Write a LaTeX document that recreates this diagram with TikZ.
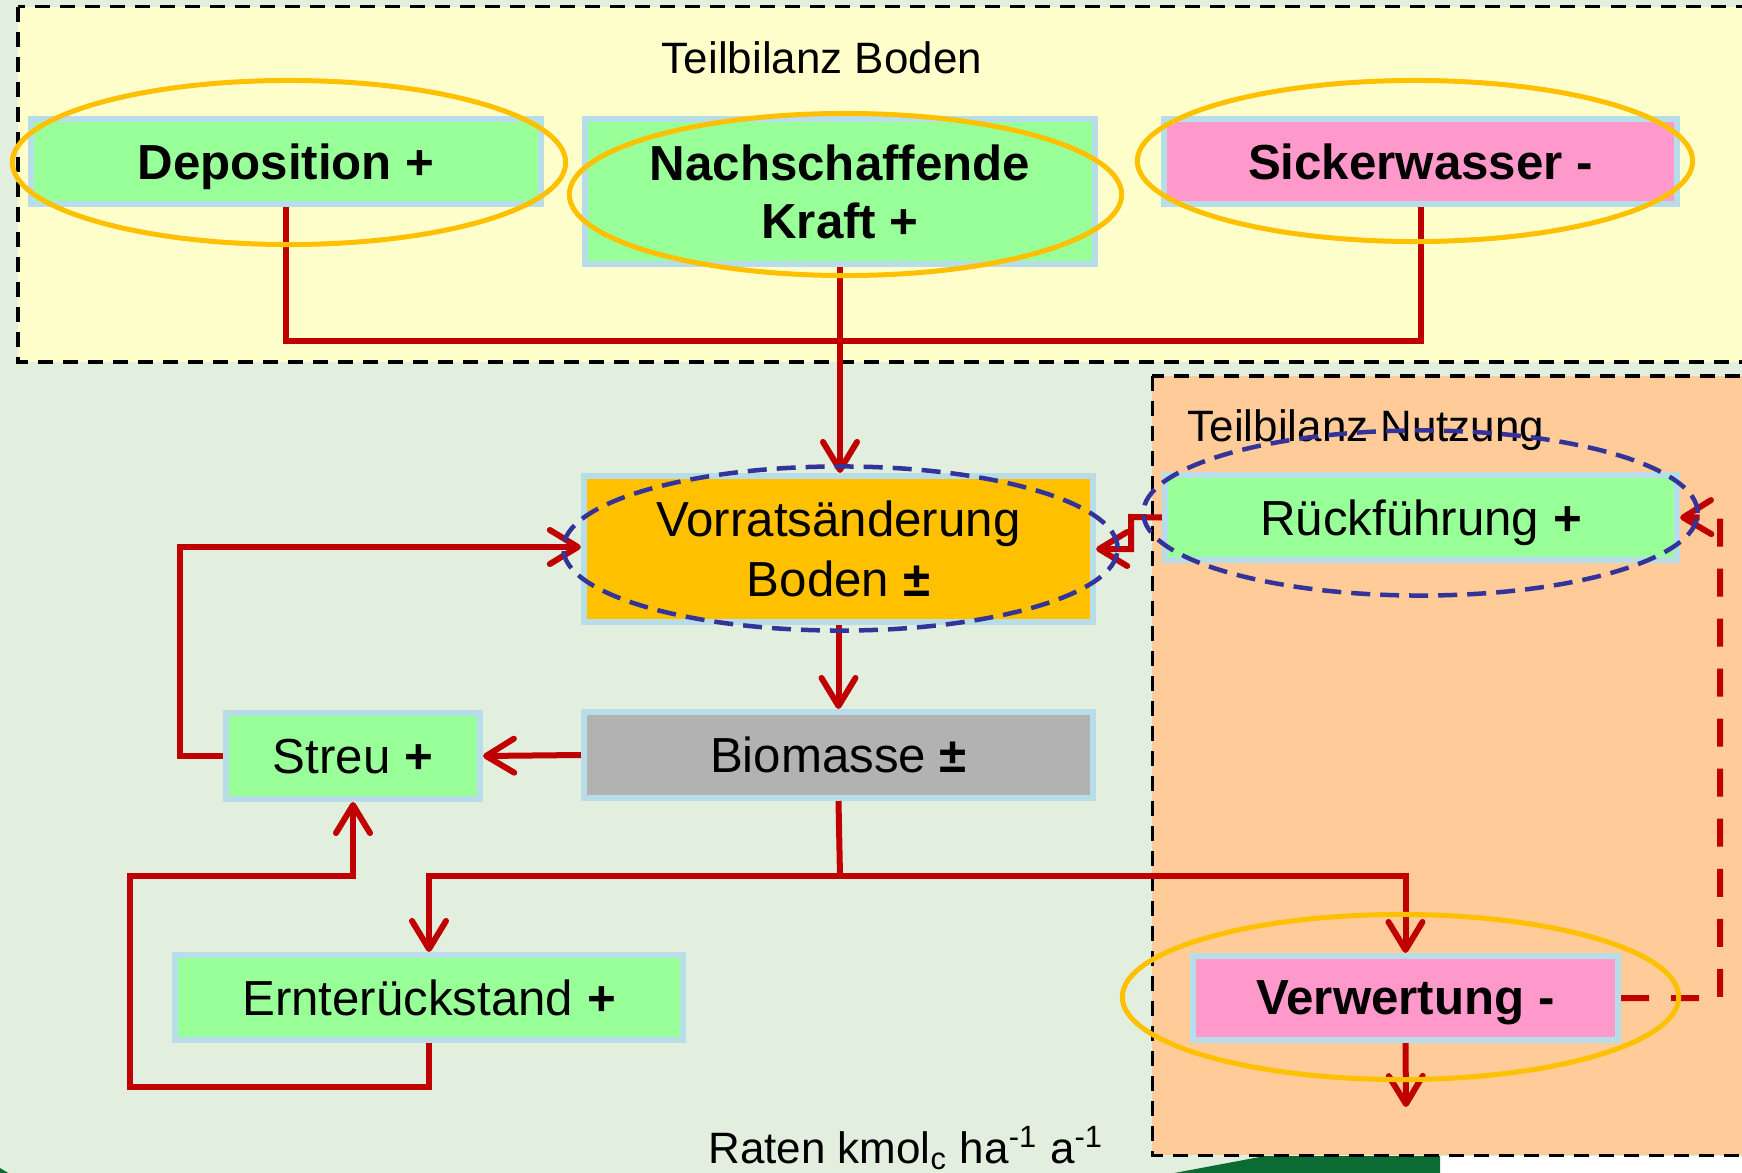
\documentclass[tikz,border=0pt]{standalone}
\usepackage{fontspec}
\setmainfont{Liberation Sans}
\usetikzlibrary{arrows.meta,shapes.geometric}
\definecolor{bgc}{HTML}{E2EFDE}
\definecolor{ylw}{HTML}{FFFFCC}
\definecolor{org}{HTML}{FFCC99}
\definecolor{grn}{HTML}{99FF99}
\definecolor{pnk}{HTML}{FF99CC}
\definecolor{gld}{HTML}{FFC000}
\definecolor{gry}{HTML}{B2B2B2}
\definecolor{bbd}{HTML}{B7DEE8}
\definecolor{rd}{HTML}{C00000}
\definecolor{blu}{HTML}{333399}
\definecolor{dgr}{HTML}{0B6B33}
\newcommand\bxf{\fontsize{14}{16.5}\selectfont}
\newcommand\lbf{\fontsize{12.5}{15}\selectfont}
\begin{document}
\begin{tikzpicture}[x=0.01cm,y=-0.01cm,
  bx/.style={draw=bbd, line width=0.06cm, inner sep=0pt, align=center, font=\bxf, text depth=0pt},
  bxb/.style={bx, font=\bxf\bfseries},
  zone/.style={draw=black, line width=0.03cm, dash pattern=on 0.15cm off 0.1cm},
  rl/.style={draw=rd, line width=0.06cm, line join=miter},
  rar/.style={rl, -{Straight Barb[length=0.28cm,width=0.34cm,round]}},
  rdash/.style={rar, dash pattern=on 0.28cm off 0.22cm},
  oell/.style={ellipse, draw=gld, line width=0.05cm, inner sep=0pt},
  bell/.style={ellipse, draw=blu, line width=0.045cm, inner sep=0pt, dash pattern=on 0.19cm off 0.1cm},
  lbl/.style={font=\lbf, inner sep=0pt}
]
% background and frame
\fill[bgc] (0,0) rectangle (1742,1173);
\useasboundingbox (0,0) rectangle (1742,1173);
\fill[white] (1440,1156) rectangle (1760,1180);
\fill[dgr] (1137,1180) -- (1265,1156) -- (1440,1156) -- (1440,1180) -- cycle;
\fill[dgr] (0,1168) -- (20,1180) -- (0,1180) -- cycle;

% zones
\filldraw[fill=ylw, zone] (18,7) rectangle (1780,362);
\filldraw[fill=org, zone] (1152,376) rectangle (1780,1155);
\node[lbl, anchor=base] (tb) at (822,74) {Teilbilanz Boden};
\node[lbl, anchor=base] (tn) at (1366,441) {Teilbilanz Nutzung};
\node[lbl, anchor=base] (rt) at (906,1163) {Raten kmol\textsubscript{c} ha\textsuperscript{-1} a\textsuperscript{-1}};

% boxes
\node[bxb, fill=grn, minimum width=5.10cm, minimum height=0.85cm] (dep) at (286,161.5) {Deposition +};
\node[bxb, fill=grn, minimum width=5.10cm, minimum height=1.45cm] (nach) at (840,191.5) {Nachschaffende\\Kraft +};
\node[bxb, fill=pnk, minimum width=5.12cm, minimum height=0.85cm] (sick) at (1420.5,161.5) {Sickerwasser -};
\node[bx, fill=gld, minimum width=5.09cm, minimum height=1.46cm, font=\fontsize{14}{17}\selectfont] (vorr) at (838.5,549) {Vorratsänderung\\Boden \textbf{±}};
\node[bx, fill=gry, minimum width=5.09cm, minimum height=0.86cm] (bio) at (838.5,755) {Biomasse \textbf{±}};
\node[bx, fill=grn, minimum width=2.54cm, minimum height=0.86cm] (streu) at (353,756) {Streu \textbf{+}};
\node[bx, fill=grn, minimum width=5.08cm, minimum height=0.85cm] (ernte) at (429,997.5) {Ernterückstand \textbf{+}};
\node[bx, fill=grn, minimum width=5.12cm, minimum height=0.85cm] (rueck) at (1421,517.5) {Rückführung \textbf{+}};
\node[bxb, fill=pnk, minimum width=4.25cm, minimum height=0.84cm] (verw) at (1405.5,998) {Verwertung -};

% junction coordinates
\coordinate (jb) at (841,341);
\coordinate (sl) at (180,547);
\coordinate (jbio) at (840,876);
\coordinate (el1) at (130,1087);
\coordinate (el2) at (130,876);
\coordinate (rk) at (1131,517);
\coordinate (vd) at (1720,517);
\coordinate (vout) at (1406,1107);

% connectors
\draw[rl] (dep.south) |- (jb) -| (sick.south);
\draw[rar] (nach.south) -- (nach.south |- vorr.north);
\draw[rar] (vorr.south) -- (vorr.south |- bio.north);
\draw[rar] (bio.west) -- (streu.east);
\draw[rar] (streu.west) -| (sl) -- (sl -| vorr.west);
\draw[rl] (bio.south) -- (jbio);
\draw[rar] (jbio) -| (ernte.north);
\draw[rar] (jbio) -| (verw.north);
\draw[rar] (ernte.south) |- (el1) -- (el2) -| (streu.south);
\draw[rar] (rueck.west) -- (rk) |- (vorr.east);
\draw[rdash] (verw.east) -| (vd) -- (rueck.east);
\draw[rar] (verw.south) -- (vout);

% highlight ellipses
\node[oell, minimum width=5.53cm, minimum height=1.64cm] (e1) at (289,162.5) {};
\node[oell, minimum width=5.52cm, minimum height=1.62cm] (e2) at (845.5,194.5) {};
\node[oell, minimum width=5.55cm, minimum height=1.61cm] (e3) at (1415,161) {};
\node[bell, minimum width=5.54cm, minimum height=1.64cm] (e4) at (840.5,548.5) {};
\node[bell, minimum width=5.54cm, minimum height=1.65cm] (e5) at (1420.5,513) {};
\node[oell, minimum width=5.56cm, minimum height=1.65cm] (e6) at (1400.5,997) {};
\end{tikzpicture}
\end{document}
